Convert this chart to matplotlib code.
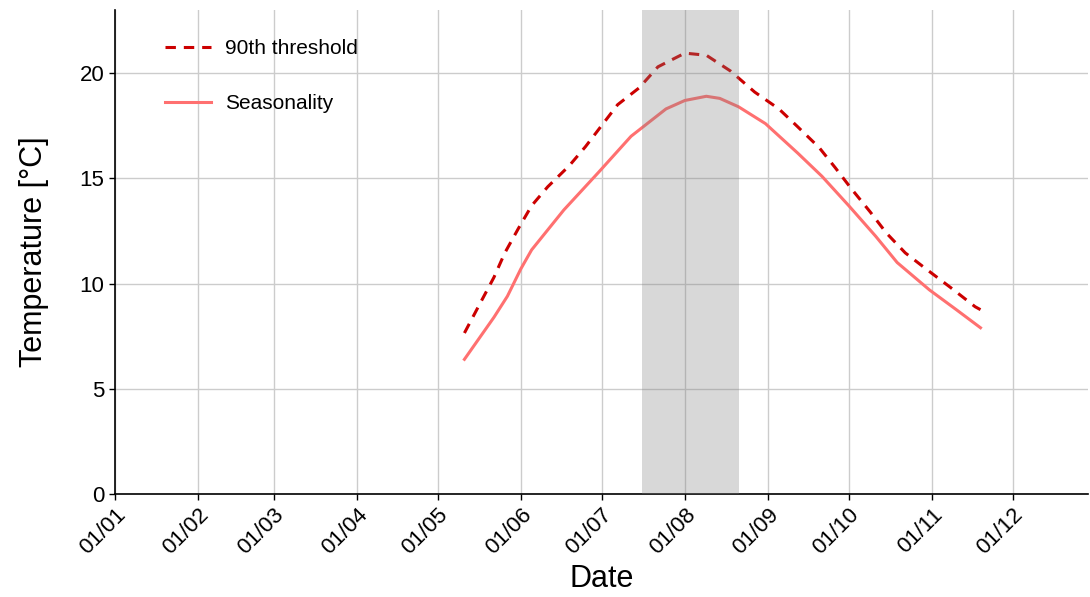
import matplotlib
matplotlib.use("Agg")
import matplotlib.pyplot as plt
import matplotlib.dates as mdates
import numpy as np
import pandas as pd

plt.rcParams['font.family'] = ['Liberation Sans', 'DejaVu Sans']

# Seasonal climatology (daily-ish samples)
seas_dates = ["2021-05-11", "2021-05-22", "2021-05-27", "2021-06-01", "2021-06-05",
              "2021-06-17", "2021-06-30", "2021-07-12", "2021-07-25", "2021-08-01",
              "2021-08-09", "2021-08-14", "2021-08-21", "2021-08-31", "2021-09-12",
              "2021-09-21", "2021-10-01", "2021-10-11", "2021-10-19", "2021-10-31",
              "2021-11-10", "2021-11-19"]
seas_vals = [6.4, 8.4, 9.4, 10.7, 11.6, 13.5, 15.3, 17.0, 18.3, 18.7,
             18.9, 18.8, 18.4, 17.6, 16.2, 15.1, 13.7, 12.25, 11.0, 9.7,
             8.76, 7.9]

thr_dates = ["2021-05-11", "2021-05-17", "2021-05-22", "2021-05-26", "2021-05-31",
             "2021-06-05", "2021-06-11", "2021-06-19", "2021-06-25", "2021-07-01",
             "2021-07-07", "2021-07-15", "2021-07-22", "2021-08-01", "2021-08-09",
             "2021-08-18", "2021-08-27", "2021-09-05", "2021-09-12", "2021-09-20",
             "2021-09-26", "2021-10-02", "2021-10-09", "2021-10-15", "2021-10-22",
             "2021-10-30", "2021-11-08", "2021-11-17", "2021-11-19"]
thr_vals = [7.65, 9.1, 10.3, 11.45, 12.6, 13.7, 14.6, 15.6, 16.5, 17.5,
            18.5, 19.3, 20.3, 20.95, 20.85, 20.1, 19.1, 18.3, 17.45, 16.46,
            15.5, 14.5, 13.4, 12.4, 11.46, 10.67, 9.8, 8.9, 8.76]

# Event period
event_start = "2021-07-16"
event_end = "2021-08-21"

month_ticks = pd.date_range("2021-01-01", "2021-12-01", freq="MS")

fig = plt.figure(figsize=(10.9, 5.97), dpi=100)
ax = fig.add_axes([115 / 1090, 1 - 494 / 597, 973 / 1090, 484 / 597])

ax.plot(pd.to_datetime(thr_dates), thr_vals, color="#CC0000", lw=2.2,
        ls=(0, (3.4, 2.6)), label="90th threshold", zorder=3)
ax.plot(pd.to_datetime(seas_dates), seas_vals, color="#FF7070", lw=2.2,
        label="Seasonality", zorder=3)
ax.axvspan(pd.Timestamp(event_start), pd.Timestamp(event_end),
           color="#7f7f7f", alpha=0.3, lw=0, zorder=4)

ax.set_xlim(pd.Timestamp("2021-01-01"), pd.Timestamp("2021-12-29"))
ax.set_ylim(0, 23)
ax.set_xticks(month_ticks)
ax.xaxis.set_major_formatter(mdates.DateFormatter("%d/%m"))
ax.set_yticks([0, 5, 10, 15, 20])

ax.grid(True, color="#cccccc", lw=1.0, zorder=0)
ax.set_axisbelow(True)
for s in ["top", "right"]:
    ax.spines[s].set_visible(False)
for s in ["left", "bottom"]:
    ax.spines[s].set_color("black")
    ax.spines[s].set_linewidth(1.2)

ax.tick_params(axis="both", labelsize=16, length=4, width=1, color="black",
               labelcolor="black")
plt.setp(ax.get_xticklabels(), rotation=45, ha="right", rotation_mode="anchor")

ax.set_xlabel("Date", fontsize=22, labelpad=4)
ax.set_ylabel("Temperature [°C]", fontsize=22, labelpad=22)

leg = ax.legend(loc="upper left", bbox_to_anchor=(0.032, 0.978), frameon=False,
                fontsize=15, handlelength=2.2, handletextpad=0.7,
                labelspacing=1.7)

fig.savefig("out.png", dpi=100)
